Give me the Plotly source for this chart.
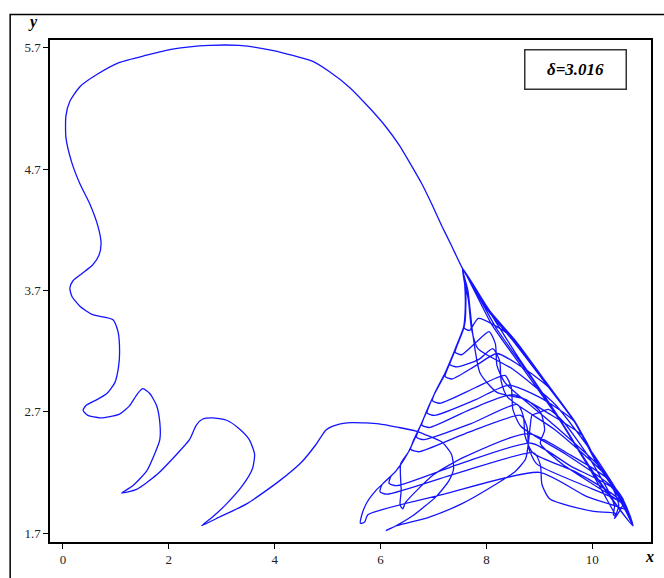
import plotly.graph_objects as go

# ---- data (x, y in axis units) ----
# web region: strands that leave the apex, run down the left edge, cross, and
# come back up along the right edge
cyc0 = [(7.55, 3.88), (7.60, 3.75), (7.61, 3.55), (7.60, 3.45), (7.58, 3.39), (7.68, 3.37),
        (7.85, 3.47), (8.38, 3.35), (8.55, 3.26), (9.11, 2.94), (9.68, 2.61), (10.11, 2.26),
        (10.36, 2.10), (10.62, 1.94), (10.77, 1.76), (10.60, 1.95), (10.34, 2.11), (10.09, 2.27),
        (9.66, 2.62), (9.09, 2.95), (8.53, 3.27), (8.02, 3.54), (7.55, 3.88)]
inner1 = [(7.66, 3.62), (7.72, 3.38), (7.84, 3.22), (8.50, 3.05), (9.30, 2.76), (10.10, 2.30),
          (10.60, 1.95), (10.77, 1.76), (10.60, 1.95), (10.35, 2.11), (10.10, 2.27), (9.67, 2.62),
          (9.10, 2.95), (8.55, 3.27), (8.04, 3.54), (7.55, 3.88)]
inner2 = [(7.65, 3.70), (7.74, 3.35), (7.88, 3.02), (8.20, 2.86), (8.75, 2.80), (9.02, 2.70),
          (9.10, 2.55), (9.02, 2.44), (9.40, 2.28), (10.20, 2.05), (10.60, 1.93), (10.77, 1.76),
          (10.60, 1.96), (10.35, 2.12), (10.10, 2.28), (9.67, 2.62), (9.10, 2.95), (8.55, 3.27),
          (8.04, 3.54), (7.55, 3.88)]
cyc1 = [(7.60, 3.75), (7.61, 3.55), (7.58, 3.40), (7.45, 3.25), (7.41, 3.19), (7.53, 3.17),
        (7.80, 3.27), (8.05, 3.36), (8.17, 3.26), (8.20, 3.08), (8.35, 2.94), (9.20, 2.62),
        (10.11, 2.26), (10.36, 2.10), (10.50, 1.93), (10.44, 1.85), (10.40, 1.88), (9.90, 2.27),
        (9.30, 2.70), (8.60, 3.15), (7.95, 3.60), (7.56, 3.87)]
cyc2 = [(7.60, 3.76), (7.61, 3.56), (7.57, 3.40), (7.44, 3.25), (7.26, 3.05), (7.22, 2.99),
        (7.35, 2.97), (7.80, 3.08), (8.20, 3.18), (8.70, 3.06), (9.18, 2.90), (9.68, 2.61),
        (10.11, 2.26), (10.36, 2.10), (10.62, 1.94), (10.76, 1.77), (10.58, 1.96), (10.33, 2.12),
        (10.08, 2.28), (9.65, 2.63), (9.10, 2.96), (8.56, 3.28), (8.05, 3.54), (7.55, 3.88)]
cyc9 = [(7.60, 3.75), (7.61, 3.55), (7.58, 3.40), (7.45, 3.25), (7.35, 3.15), (7.31, 3.09),
        (7.45, 3.07), (7.85, 3.13), (8.12, 3.22), (8.25, 3.12), (8.28, 2.95), (8.40, 2.82),
        (9.30, 2.55), (10.20, 2.20), (10.60, 1.94), (10.76, 1.77), (10.59, 1.96), (10.34, 2.12),
        (10.10, 2.28), (9.67, 2.62), (9.10, 2.95), (8.55, 3.27), (8.04, 3.54), (7.55, 3.88)]
cyc3 = [(7.59, 3.75), (7.60, 3.55), (7.57, 3.40), (7.45, 3.26), (7.23, 3.03), (7.02, 2.85),
        (6.98, 2.79), (7.12, 2.77), (7.80, 2.90), (8.35, 3.00), (8.47, 2.90), (8.50, 2.72),
        (8.65, 2.58), (9.50, 2.35), (10.32, 2.10), (10.60, 1.93), (10.76, 1.77), (10.60, 1.95),
        (10.35, 2.11), (10.10, 2.27), (9.67, 2.62), (9.10, 2.95), (8.54, 3.27), (8.03, 3.54),
        (7.55, 3.88)]
cyc10 = [(7.60, 3.75), (7.61, 3.55), (7.58, 3.40), (7.45, 3.25), (7.23, 3.02), (7.00, 2.83),
         (6.92, 2.75), (6.88, 2.69), (7.02, 2.67), (7.80, 2.80), (8.42, 2.92), (9.00, 2.82),
         (9.66, 2.62), (10.11, 2.26), (10.36, 2.10), (10.62, 1.94), (10.77, 1.76), (10.10, 2.15),
         (9.55, 2.52), (8.90, 2.95), (8.20, 3.38), (7.56, 3.87)]
cyc4 = [(7.60, 3.75), (7.61, 3.55), (7.58, 3.40), (7.45, 3.25), (7.23, 3.02), (7.00, 2.83),
        (6.82, 2.65), (6.78, 2.59), (6.92, 2.57), (7.70, 2.72), (8.50, 2.84), (9.20, 2.68),
        (9.82, 2.50), (10.11, 2.26), (10.36, 2.10), (10.62, 1.94), (10.77, 1.76), (10.00, 2.20),
        (9.40, 2.62), (8.75, 3.02), (8.10, 3.42), (7.56, 3.87)]
cyc11 = [(7.60, 3.75), (7.61, 3.55), (7.58, 3.40), (7.45, 3.25), (7.23, 3.02), (7.00, 2.83),
         (6.78, 2.61), (6.72, 2.55), (6.68, 2.49), (6.82, 2.47), (7.70, 2.60), (8.58, 2.76),
         (8.70, 2.66), (8.73, 2.50), (8.88, 2.36), (9.70, 2.20), (10.50, 1.98), (10.77, 1.76),
         (10.60, 1.96), (10.35, 2.12), (10.10, 2.28), (9.67, 2.62), (9.10, 2.95), (8.55, 3.27),
         (8.04, 3.54), (7.55, 3.88)]
cyc5 = [(7.60, 3.76), (7.61, 3.55), (7.58, 3.40), (7.45, 3.25), (7.23, 3.02), (7.00, 2.83),
        (6.78, 2.61), (6.61, 2.45), (6.57, 2.39), (6.72, 2.37), (7.60, 2.52), (8.65, 2.67),
        (8.77, 2.57), (8.80, 2.40), (8.95, 2.27), (9.80, 2.10), (10.55, 1.95), (10.77, 1.76),
        (10.61, 1.95), (10.35, 2.11), (10.10, 2.27), (9.67, 2.62), (9.10, 2.95), (8.54, 3.27),
        (8.03, 3.54), (7.55, 3.88)]
cyc6 = [(7.60, 3.75), (7.61, 3.55), (7.58, 3.40), (7.45, 3.25), (7.23, 3.02), (7.00, 2.83),
        (6.78, 2.61), (6.53, 2.37), (6.38, 2.27), (6.39, 2.05), (6.37, 1.93), (6.42, 1.90),
        (6.47, 1.95), (7.00, 2.18), (7.60, 2.33), (8.80, 2.52), (9.60, 2.34), (10.28, 2.15),
        (10.62, 1.94), (10.77, 1.76), (10.60, 1.95), (10.34, 2.11), (10.09, 2.27), (9.66, 2.62),
        (9.09, 2.95), (8.53, 3.27), (8.02, 3.54), (7.55, 3.88)]
cyc12 = [(7.60, 3.75), (7.61, 3.55), (7.58, 3.40), (7.45, 3.25), (7.23, 3.02), (7.00, 2.83),
         (6.78, 2.61), (6.53, 2.37), (6.29, 2.21), (6.20, 2.17), (6.16, 2.11), (6.30, 2.09),
         (7.50, 2.27), (8.85, 2.44), (9.60, 2.25), (10.42, 2.06), (10.77, 1.76), (10.61, 1.95),
         (10.35, 2.11), (10.10, 2.27), (9.67, 2.62), (9.10, 2.95), (8.55, 3.27), (8.04, 3.54),
         (7.55, 3.88)]
cyc7 = [(7.60, 3.75), (7.61, 3.55), (7.58, 3.40), (7.45, 3.25), (7.23, 3.02), (7.00, 2.83),
        (6.78, 2.61), (6.53, 2.37), (6.29, 2.21), (6.03, 2.10), (5.99, 2.04), (6.12, 2.02),
        (7.50, 2.20), (8.90, 2.36), (9.02, 2.26), (9.05, 2.10), (9.20, 1.98), (10.00, 1.88),
        (10.45, 1.86), (10.42, 1.82), (10.60, 1.96), (10.35, 2.12), (10.10, 2.28), (9.67, 2.62),
        (9.10, 2.95), (8.55, 3.27), (8.04, 3.54), (7.55, 3.88)]
cyc8 = [(7.60, 3.75), (7.61, 3.55), (7.58, 3.40), (7.45, 3.25), (7.23, 3.02), (7.00, 2.83),
        (6.78, 2.61), (6.53, 2.37), (6.29, 2.21), (5.91, 2.05), (5.74, 1.95), (5.64, 1.84),
        (5.62, 1.78), (5.70, 1.79), (5.76, 1.85), (7.20, 2.02), (9.00, 2.20), (9.90, 2.00),
        (10.67, 1.88), (10.77, 1.76), (10.61, 1.95), (10.35, 2.11), (10.10, 2.27), (9.67, 2.62),
        (9.10, 2.95), (8.55, 3.27), (8.04, 3.54), (7.55, 3.88)]

# big outer arc and the left side
arc_x = [7.34, 7.16, 6.97, 6.78, 6.57, 6.35, 6.10, 5.78, 5.40, 5.03, 4.71, 3.95, 3.33, 2.77,
         2.07, 1.58, 1.07, 0.64, 0.32, 0.13, 0.056, 0.056, 0.17, 0.32, 0.51, 0.66, 0.72,
         0.68, 0.56, 0.36, 0.19, 0.13, 0.17, 0.32, 0.56, 0.94, 1.04, 1.07, 1.05, 0.98]
arc_y = [4.07, 4.23, 4.41, 4.58, 4.74, 4.90, 5.05, 5.21, 5.38, 5.505, 5.59, 5.68, 5.72, 5.72,
         5.69, 5.64, 5.58, 5.48, 5.38, 5.26, 5.14, 4.96, 4.75, 4.58, 4.41, 4.23, 4.09,
         3.99, 3.91, 3.84, 3.78, 3.72, 3.65, 3.57, 3.50, 3.46, 3.36, 3.20, 3.07, 2.94]

# the chain of "fingers" along the bottom
finger_x = [0.83, 0.64, 0.43, 0.38, 0.47, 0.70, 0.89, 1.07, 1.26, 1.41, 1.51, 1.64, 1.77,
            1.83, 1.83, 1.73, 1.58, 1.32, 1.11, 1.39, 1.77, 2.15, 2.39, 2.52, 2.64, 2.82,
            3.09, 3.33, 3.52, 3.62, 3.58, 3.39, 3.09, 2.82, 2.62, 2.90, 3.47, 4.09, 4.52,
            4.78, 4.97, 5.16, 5.46, 5.97, 6.35, 6.67, 6.85, 7.16, 7.34, 7.38, 7.29, 7.05,
            6.6, 6.25, 6.1, 6.3, 6.91, 7.53, 8.17, 8.55, 8.74, 8.79, 8.83, 8.86, 8.98,
            9.17, 9.45, 9.9, 10.3, 10.42, 10.40, 10.46]
finger_y = [2.85, 2.80, 2.75, 2.71, 2.67, 2.65, 2.66, 2.68, 2.75, 2.85, 2.89, 2.85, 2.75,
            2.61, 2.47, 2.35, 2.21, 2.09, 2.03, 2.06, 2.18, 2.35, 2.47, 2.59, 2.64, 2.65,
            2.63, 2.56, 2.47, 2.35, 2.23, 2.09, 1.94, 1.83, 1.76, 1.82, 1.94, 2.13, 2.29,
            2.43, 2.55, 2.59, 2.61, 2.60, 2.57, 2.54, 2.51, 2.45, 2.35, 2.23, 2.13, 2.00,
            1.84, 1.75, 1.72, 1.76, 1.83, 1.94, 2.10, 2.21, 2.31, 2.43, 2.59, 2.67, 2.69,
            2.72, 2.62, 2.35, 2.05, 1.92, 1.85, 1.84]

x_ticks = [0, 2, 4, 6, 8, 10]
y_ticks = [1.7, 2.7, 3.7, 4.7, 5.7]
y_tick_text = ["1.7", "2.7", "3.7", "4.7", "5.7"]
label_text = "δ=3.016"

web = (cyc0 + inner1 + inner2 + cyc1 + cyc2 + cyc9 + cyc3 + cyc10 + cyc4 + cyc11 + cyc5
       + cyc6 + cyc12 + cyc7 + cyc8)
xs = [p[0] for p in web] + arc_x + finger_x
ys = [p[1] for p in web] + arc_y + finger_y

fig = go.Figure()
fig.add_trace(go.Scatter(
    x=xs, y=ys, mode="lines",
    line=dict(color="rgb(20,20,255)", width=1.3, shape="spline", smoothing=0.6),
    hoverinfo="skip", showlegend=False))

serif = "Liberation Serif, Times New Roman, serif"
axis_common = dict(showgrid=False, zeroline=False, showline=True, linecolor="black",
                   linewidth=1.5, mirror=True, ticks="outside", ticklen=5,
                   tickcolor="black", tickwidth=1,
                   tickfont=dict(family=serif, size=13, color="#222"))
fig.update_xaxes(range=[-0.245, 11.11], tickvals=x_ticks, **axis_common)
fig.update_yaxes(range=[1.626, 5.765], tickvals=y_ticks, ticktext=y_tick_text, **axis_common)

fig.update_layout(
    width=664, height=578,
    margin=dict(l=50, r=11, t=40, b=26),
    paper_bgcolor="white", plot_bgcolor="white",
    shapes=[dict(type="rect", xref="paper", yref="paper",
                 x0=-0.0663, x1=1.04, y0=-0.1, y1=1.0508,
                 line=dict(color="black", width=1.5), layer="below")],
    annotations=[
        dict(text="<b><i>y</i></b>", xref="paper", yref="paper", x=-0.028, y=1.035,
             xanchor="center", yanchor="middle",
             showarrow=False, font=dict(family=serif, size=16, color="black")),
        dict(text="<b><i>x</i></b>", xref="paper", yref="paper", x=0.998, y=-0.029,
             xanchor="center", yanchor="middle",
             showarrow=False, font=dict(family=serif, size=16, color="black")),
        dict(text="<b><i>" + label_text + "</i></b>", xref="paper", yref="paper",
             x=0.874, y=0.9404, xanchor="center", yanchor="middle",
             showarrow=False, width=98, height=36,
             bordercolor="#333", borderwidth=1.5, borderpad=1, bgcolor="white",
             font=dict(family=serif, size=17, color="black")),
    ],
)

page_fix = ("var h=document.documentElement;h.style.overflow='hidden';h.style.height='578px';"
            "var b=document.body;b.style.margin='0';b.style.padding='0';"
            "b.style.overflow='hidden';b.style.height='578px';")
fig.write_html("out.html", config={"displayModeBar": False}, post_script=page_fix)
